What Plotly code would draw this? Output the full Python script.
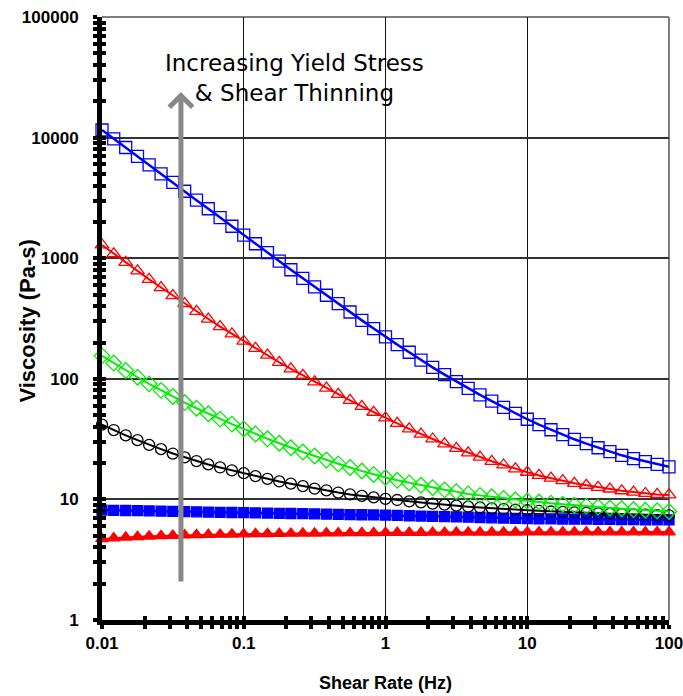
import plotly.graph_objects as go

shear_rate = [0.01, 0.0121, 0.0147, 0.0178, 0.0215, 0.0261, 0.0316, 0.0383, 0.0464, 0.0562, 0.0681, 0.0825,
              0.1, 0.121, 0.147, 0.178, 0.215, 0.261, 0.316, 0.383, 0.464, 0.562, 0.681, 0.825,
              1.0, 1.21, 1.47, 1.78, 2.15, 2.61, 3.16, 3.83, 4.64, 5.62, 6.81, 8.25,
              10.0, 12.1, 14.7, 17.8, 21.5, 26.1, 31.6, 38.3, 46.4, 56.2, 68.1, 82.5, 100.0]

visc_blue_open = [11560, 9770, 8280, 7000, 5930, 5010, 4250, 3590, 3030, 2570, 2170, 1840,
                  1556, 1318, 1114, 946, 802, 681, 579, 493, 420, 358, 305, 261,
                  223, 192, 166, 143, 124.5, 108.4, 94.8, 83.4, 73.6, 65.2, 57.9, 51.6,
                  46.2, 41.7, 37.8, 34.4, 31.5, 29.0, 26.8, 24.9, 23.2, 21.8, 20.6, 19.5, 18.6]

visc_red_open = [1288, 1089, 923, 785, 668, 571, 490, 421, 362, 313, 271, 236,
                 205, 179, 157, 137, 121, 107, 94.4, 83.6, 74.3, 66.2, 59.0, 52.8,
                 47.4, 42.7, 38.5, 34.8, 31.7, 28.9, 26.5, 24.3, 22.4, 20.7, 19.3, 17.9,
                 16.8, 15.8, 15.0, 14.3, 13.6, 13.1, 12.6, 12.2, 11.8, 11.5, 11.2, 11.0, 10.9]

visc_green_open = [155, 135, 117, 103, 90.8, 80.2, 71.3, 63.5, 57.0, 51.3, 46.3, 42.1,
                   38.4, 34.9, 31.8, 29.2, 26.8, 24.7, 22.9, 21.2, 19.7, 18.4, 17.2, 16.1,
                   15.2, 14.4, 13.7, 13.1, 12.5, 12.0, 11.6, 11.1, 10.8, 10.5, 10.2, 9.93,
                   9.70, 9.51, 9.31, 9.12, 8.95, 8.79, 8.63, 8.49, 8.36, 8.24, 8.13, 8.04, 7.94]

visc_black_open = [41.7, 37.6, 34.0, 31.0, 28.3, 26.1, 24.0, 22.3, 20.8, 19.5, 18.4, 17.4,
                   16.5, 15.6, 14.8, 14.1, 13.5, 12.9, 12.3, 11.9, 11.4, 11.0, 10.7, 10.4,
                   10.1, 9.89, 9.64, 9.44, 9.23, 9.04, 8.87, 8.71, 8.57, 8.43, 8.32, 8.22,
                   8.13, 8.04, 7.94, 7.87, 7.80, 7.73, 7.66, 7.60, 7.55, 7.50, 7.46, 7.41, 7.38]

visc_blue_filled = [8.15, 8.12, 8.09, 8.06, 8.03, 7.99, 7.96, 7.92, 7.89, 7.85, 7.82, 7.79,
                    7.76, 7.73, 7.70, 7.67, 7.64, 7.61, 7.58, 7.55, 7.52, 7.49, 7.46, 7.43,
                    7.40, 7.36, 7.32, 7.28, 7.24, 7.20, 7.16, 7.12, 7.08, 7.04, 7.00, 6.96,
                    6.92, 6.91, 6.89, 6.88, 6.86, 6.85, 6.83, 6.82, 6.80, 6.79, 6.78, 6.77, 6.76]

visc_red_filled = [4.70, 4.78, 4.85, 4.90, 4.95, 4.99, 5.02, 5.05, 5.08, 5.10, 5.12, 5.14,
                   5.16, 5.18, 5.19, 5.21, 5.22, 5.23, 5.24, 5.25, 5.26, 5.27, 5.28, 5.29,
                   5.30, 5.30, 5.31, 5.31, 5.32, 5.32, 5.33, 5.33, 5.33, 5.34, 5.34, 5.34,
                   5.35, 5.35, 5.35, 5.35, 5.36, 5.36, 5.36, 5.36, 5.36, 5.36, 5.36, 5.36, 5.36]

x_tick_vals = [0.01, 0.1, 1, 10, 100]
x_tick_text = ["0.01", "0.1", "1", "10", "100"]
y_tick_vals = [1, 10, 100, 1000, 10000, 100000]
y_tick_text = ["1", "10", "100", "1000", "10000", "100000"]

series = [
    (visc_red_filled, "#FF0000", "triangle-up", 11, 2),
    (visc_blue_filled, "#0000FF", "square", 10, 2.5),
    (visc_black_open, "#000000", "circle-open", 11, 2),
    (visc_green_open, "#00EE00", "diamond-open", 12, 2),
    (visc_red_open, "#FF0000", "triangle-up-open", 12, 2),
    (visc_blue_open, "#0000FF", "square-open", 12, 2.5),
]

fig = go.Figure()
for vals, col, sym, size, lw in series:
    fig.add_trace(go.Scatter(
        x=shear_rate, y=vals, mode="lines+markers",
        line=dict(color=col, width=lw),
        marker=dict(symbol=sym, size=size, color=col,
                    line=dict(color=col, width=1.3)),
        cliponaxis=False, showlegend=False,
    ))

# helper trace so the overlay axes (inner half of the cross ticks) are drawn
fig.add_trace(go.Scatter(x=[1], y=[10], xaxis="x2", yaxis="y2", mode="markers",
                         marker=dict(opacity=0), hoverinfo="skip", showlegend=False))

tick_font = dict(family="Liberation Sans, Arial", size=17, color="black", weight="bold")
minor_out = dict(ticks="outside", ticklen=4, tickwidth=4, tickcolor="black", dtick="D1", showgrid=False)
minor_in = dict(ticks="inside", ticklen=4, tickwidth=4, tickcolor="black", dtick="D1", showgrid=False)

fig.update_layout(
    width=683, height=696,
    margin=dict(l=102, r=14, t=17, b=76),
    paper_bgcolor="white", plot_bgcolor="white",
    showlegend=False,
    xaxis=dict(
        type="log", range=[-2, 2], automargin=False,
        tickvals=x_tick_vals, ticktext=x_tick_text,
        showgrid=True, gridcolor="#111111", gridwidth=1,
        showline=True, linecolor="black", linewidth=5,
        ticks="outside", ticklen=4, tickwidth=4, tickcolor="black",
        minor=minor_out, ticklabeloverflow="allow",
        tickfont=tick_font, zeroline=False,
    ),
    yaxis=dict(
        type="log", range=[0, 5], automargin=False,
        tickvals=y_tick_vals, ticktext=y_tick_text,
        showgrid=True, gridcolor="#333333", gridwidth=1.5,
        showline=True, linecolor="black", linewidth=5,
        ticks="outside", ticklen=4, tickwidth=4, tickcolor="black",
        minor=minor_out, ticklabeloverflow="allow",
        tickfont=tick_font, zeroline=False, ticklabelstandoff=11,
    ),
    xaxis2=dict(
        type="log", range=[-2, 2], overlaying="x", anchor="y2", automargin=False,
        tickvals=x_tick_vals, showticklabels=False, showgrid=False, zeroline=False,
        showline=False, ticks="inside", ticklen=4, tickwidth=4, tickcolor="black",
        minor=minor_in,
    ),
    yaxis2=dict(
        type="log", range=[0, 5], overlaying="y", anchor="x2", automargin=False,
        tickvals=y_tick_vals, showticklabels=False, showgrid=False, zeroline=False,
        showline=False, ticks="inside", ticklen=4, tickwidth=4, tickcolor="black",
        minor=minor_in,
    ),
    shapes=[
        dict(type="line", xref="paper", yref="paper", x0=1, x1=1, y0=0, y1=1,
             line=dict(color="#555555", width=1.5), layer="below"),
        dict(type="line", xref="paper", yref="paper", x0=0, x1=1, y0=1, y1=1,
             line=dict(color="#555555", width=1.5), layer="below"),
    ],
    annotations=[
        dict(x=-1.443, y=4.378, ax=-1.443, ay=0.307, xref="x", yref="y", axref="x", ayref="y",
             text="", showarrow=True, arrowhead=4, arrowsize=0.9, arrowwidth=5, arrowcolor="#888888"),
        dict(x=0.34, y=0.899, xref="paper", yref="paper", xanchor="center", yanchor="middle",
             showarrow=False,
             text="Increasing Yield Stress<br>& Shear Thinning",
             font=dict(family="DejaVu Sans", size=23, color="black"), align="center"),
        dict(x=0.5, y=-0.1045, xref="paper", yref="paper", xanchor="center", yanchor="middle",
             showarrow=False, text="Shear Rate (Hz)",
             font=dict(family="Liberation Sans, Arial", size=18, color="black", weight="bold")),
        dict(x=-0.1305, y=0.495, xref="paper", yref="paper", xanchor="center", yanchor="middle",
             showarrow=False, text="Viscosity (Pa-s)", textangle=-90,
             font=dict(family="Liberation Sans, Arial", size=22, color="black", weight="bold")),
    ],
)

fig.write_html("out.html", config={"displayModeBar": False},
               post_script="document.body.style.margin='0';document.body.style.overflow='hidden';")
